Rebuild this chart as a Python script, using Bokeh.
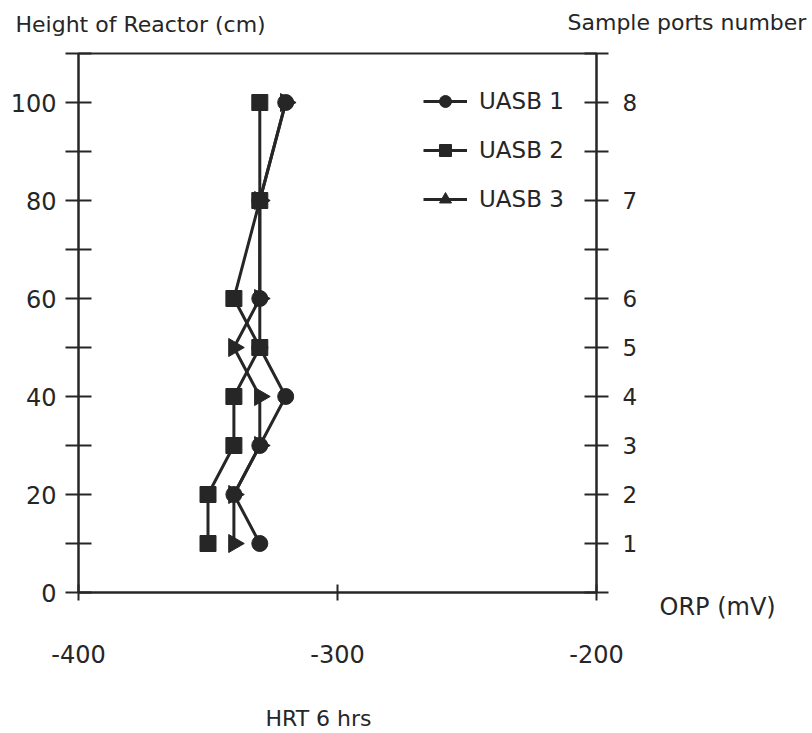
import math
from bokeh.plotting import figure
from bokeh.models import (Range1d, LinearAxis, FixedTicker, Label, Legend,
                          LegendItem, ColumnDataSource)
from bokeh.embed import file_html
from bokeh.resources import INLINE

# ---------------- data ----------------
heights = [10, 20, 30, 40, 50, 60, 80, 100]          # height of reactor (cm)
orp_uasb1 = [-330, -340, -330, -320, -330, -330, -330, -320]
orp_uasb2 = [-350, -350, -340, -340, -330, -340, -330, -330]
orp_uasb3 = [-340, -340, -330, -330, -340, -330, -330, -320]

height_ticks = [0, 10, 20, 30, 40, 50, 60, 70, 80, 90, 100, 110]
height_labels = {0: "0", 20: "20", 40: "40", 60: "60", 80: "80", 100: "100"}
port_heights = [10, 20, 30, 40, 50, 60, 80, 100]
port_labels = ["1", "2", "3", "4", "5", "6", "7", "8"]
orp_ticks = [-400, -300, -200]
orp_labels = ["-400", "-300", "-200"]

FONT = "DejaVu Sans"
INK = "#262626"
W, H = 812, 733
FL, FR, FT, FB = 78, 596, 53, 592   # frame edges in canvas pixels
X0, X1, Y0, Y1 = -400, -200, 0, 110

p = figure(width=W, height=H,
           x_range=Range1d(X0, X1), y_range=Range1d(Y0, Y1),
           x_axis_type=None, y_axis_type=None,
           toolbar_location=None, output_backend="svg",
           min_border_left=FL, min_border_right=W - FR,
           min_border_top=FT, min_border_bottom=H - FB)
p.outline_line_color = INK
p.outline_line_width = 2
p.background_fill_color = "white"
p.border_fill_color = "white"

def style_axis(ax, tin, tout, standoff, size="23px"):
    ax.axis_line_color = INK
    ax.axis_line_width = 2
    ax.major_tick_line_color = INK
    ax.major_tick_line_width = 2
    ax.major_tick_in = tin
    ax.major_tick_out = tout
    ax.minor_tick_line_color = None
    ax.major_label_text_font = FONT
    ax.major_label_text_font_size = size
    ax.major_label_text_color = INK
    ax.major_label_standoff = standoff

left = LinearAxis(ticker=FixedTicker(ticks=height_ticks))
left.major_label_overrides = {t: height_labels.get(t, "") for t in height_ticks}
style_axis(left, 13, 13, 9, "24px")
p.add_layout(left, "left")

right = LinearAxis(ticker=FixedTicker(ticks=height_ticks))
ovr = {t: "" for t in height_ticks}
for h, lab in zip(port_heights, port_labels):
    ovr[h] = lab
right.major_label_overrides = ovr
style_axis(right, 12, 12, 14, "23px")
p.add_layout(right, "right")

bottom = LinearAxis(ticker=FixedTicker(ticks=orp_ticks))
bottom.major_label_overrides = dict(zip(orp_ticks, orp_labels))
style_axis(bottom, 8, 8, 44, "24px")
p.add_layout(bottom, "below")

# ---------------- series ----------------
src1 = ColumnDataSource(dict(x=orp_uasb1, y=heights))
src2 = ColumnDataSource(dict(x=orp_uasb2, y=heights))
src3 = ColumnDataSource(dict(x=orp_uasb3, y=heights))

l1 = p.line("x", "y", source=src1, line_color=INK, line_width=3)
l3 = p.line("x", "y", source=src3, line_color=INK, line_width=3)
l2 = p.line("x", "y", source=src2, line_color=INK, line_width=3)

s1 = p.scatter("x", "y", source=src1, marker="circle", size=16,
               fill_color=INK, line_color=INK)
s3 = p.scatter("x", "y", source=src3, marker="triangle", size=18,
               angle=-math.pi / 2, fill_color=INK, line_color=INK)
s2 = p.scatter("x", "y", source=src2, marker="square", size=16,
               fill_color=INK, line_color=INK)

# legend-only up-pointing triangle (not drawn in the plot area)
tri_leg = p.scatter(x=[float("nan")], y=[float("nan")], marker="triangle",
                    size=14, fill_color=INK, line_color=INK)

legend = Legend(items=[
    LegendItem(label="UASB 1", renderers=[l1, s1]),
    LegendItem(label="UASB 2", renderers=[l2, s2]),
    LegendItem(label="UASB 3", renderers=[l3, tri_leg]),
])
legend.location = (345, 378)
legend.glyph_width = 44
legend.glyph_height = 30
legend.label_height = 30
legend.spacing = 19
legend.padding = 0
legend.margin = 0
legend.label_standoff = 12
legend.border_line_color = None
legend.background_fill_alpha = 0
legend.label_text_font = FONT
legend.label_text_font_size = "23px"
legend.label_text_color = INK
p.add_layout(legend, "center")

# ---------------- texts (data units, placed in side panels so not clipped) ----
def px_to_data(px, py):
    x = X0 + (px - FL) * (X1 - X0) / (FR - FL)
    y = Y0 + (FB - py) * (Y1 - Y0) / (FB - FT)
    return x, y

def add_label(px, py, text, size, side, align="left"):
    x, y = px_to_data(px, py)
    p.add_layout(Label(x=x, y=y, text=text, text_font=FONT,
                       text_font_size=size, text_color=INK,
                       text_align=align, text_baseline="middle"), side)

add_label(15, 24, "Height of Reactor (cm)", "22px", "above")
add_label(567, 22, "Sample ports number", "22px", "above")
add_label(659, 606, "ORP (mV)", "24px", "right")
add_label(318, 718, "HRT 6 hrs", "22px", "below", align="center")

open("out.html", "w").write(file_html(p, INLINE))
